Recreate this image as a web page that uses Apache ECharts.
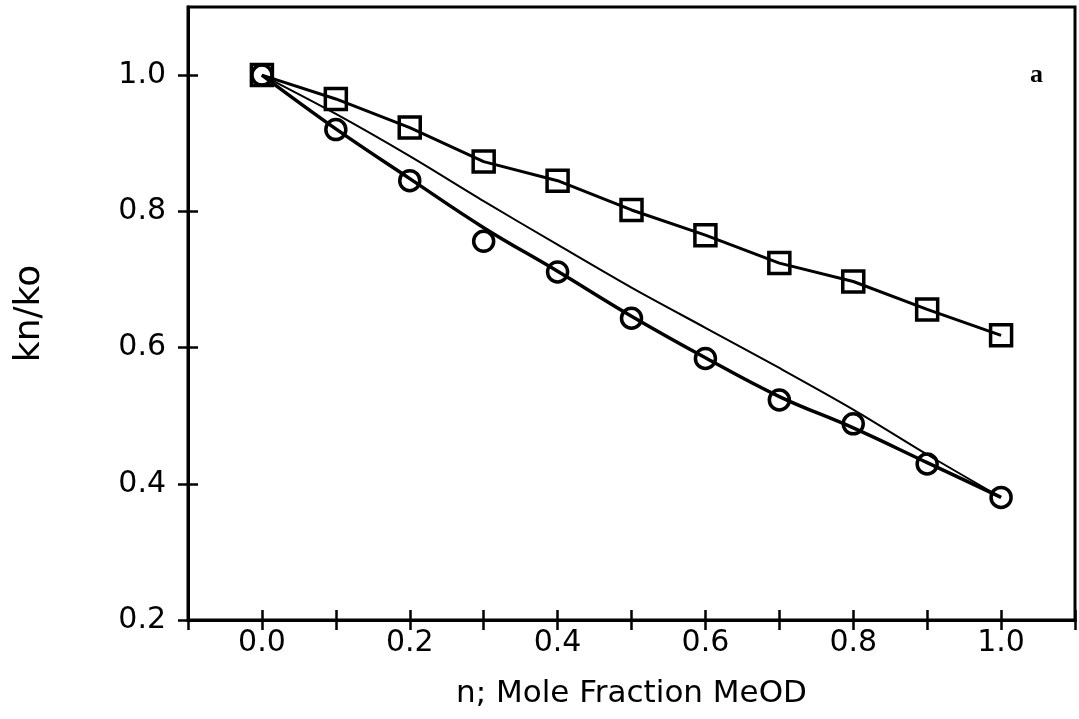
<!DOCTYPE html>
<html>
<head>
<meta charset="utf-8">
<script src="https://cdn.jsdelivr.net/npm/echarts@6/dist/echarts.min.js"></script>
<style>
  html, body { margin: 0; padding: 0; background: #fff; }
  #chart { width: 1079px; height: 719px; }
</style>
</head>
<body>
<div id="chart"></div>
<script>
// Mole fraction of MeOD (x values)
const xValues = [0.0, 0.1, 0.2, 0.3, 0.4, 0.5, 0.6, 0.7, 0.8, 0.9, 1.0];
// Square markers (measured) – joined by a line
const squareValues = [1.0, 0.965, 0.923, 0.873, 0.845, 0.802, 0.765, 0.724, 0.697, 0.656, 0.618];
// Circle markers (measured)
const circleValues = [1.0, 0.920, 0.845, 0.756, 0.711, 0.643, 0.584, 0.523, 0.488, 0.429, 0.380];
// Fitted curve through the circles
const circleFitValues = [1.0, 0.921, 0.848, 0.776, 0.712, 0.646, 0.585, 0.528, 0.482, 0.431, 0.380];
// Thin middle curve
const middleLineValues = [1.0, 0.943, 0.881, 0.815, 0.751, 0.688, 0.629, 0.570, 0.509, 0.443, 0.380];
// Tick values / labels
const yTickValues = [0.2, 0.4, 0.6, 0.8, 1.0];
const xTickLabels = ['0.0', '0.2', '0.4', '0.6', '0.8', '1.0'];
const yTickLabels = ['0.2', '0.4', '0.6', '0.8', '1.0'];
const xAxisTitle = 'n; Mole Fraction MeOD';
const yAxisTitle = 'kn/ko';
const panelLabel = 'a';

const FONT = '"DejaVu Sans", sans-serif';
const pairs = (ys) => xValues.map((x, i) => [x, ys[i]]);

const xLabelFmt = (v) => {
  const s = v.toFixed(1);
  return xTickLabels.includes(s) ? s : '';
};
const yLabelFmt = (v) => {
  const s = v.toFixed(1);
  return (yTickLabels.includes(s) && Math.abs(v - parseFloat(s)) < 1e-6) ? s : '';
};

const baseX = {
  type: 'value', min: -0.1, max: 1.1, interval: 0.1, position: 'bottom',
  axisLine: { show: true, onZero: false, lineStyle: { color: '#000', width: 3 } },
  splitLine: { show: false }
};
const baseY = {
  type: 'value', min: 0.2, max: 1.1, interval: 0.2, position: 'left',
  axisLine: { show: true, onZero: false, lineStyle: { color: '#000', width: 3 } },
  splitLine: { show: false }
};

const chart = echarts.init(document.getElementById('chart'), null, { renderer: 'canvas' });
chart.setOption({
  animation: false,
  backgroundColor: '#fff',
  grid: { left: 188, right: 4, top: 7, bottom: 99, show: true, borderColor: '#000', borderWidth: 3, backgroundColor: 'transparent' },
  xAxis: [
    Object.assign({}, baseX, {
      name: xAxisTitle, nameLocation: 'middle', nameGap: 58,
      nameTextStyle: { fontFamily: FONT, fontSize: 31, color: '#000' },
      axisTick: { show: true, inside: false, length: 10, lineStyle: { color: '#000', width: 2.5 } },
      axisLabel: { show: true, formatter: xLabelFmt, fontFamily: FONT, fontSize: 30, color: '#000', margin: 8 }
    }),
    Object.assign({}, baseX, {
      axisTick: { show: true, inside: true, length: 10, lineStyle: { color: '#000', width: 2.5 } },
      axisLabel: { show: false }
    })
  ],
  yAxis: [
    Object.assign({}, baseY, {
      name: yAxisTitle, nameLocation: 'middle', nameGap: 140,
      nameTextStyle: { fontFamily: FONT, fontSize: 36, color: '#000' },
      axisTick: { show: true, inside: false, length: 10, customValues: yTickValues, lineStyle: { color: '#000', width: 2.5 } },
      axisLabel: { show: true, customValues: yTickValues, formatter: yLabelFmt, fontFamily: FONT, fontSize: 30, color: '#000', margin: 22 }
    }),
    Object.assign({}, baseY, {
      axisTick: { show: true, inside: true, length: 10, customValues: yTickValues, lineStyle: { color: '#000', width: 2.5 } },
      axisLabel: { show: false }
    })
  ],
  graphic: [{
    type: 'text', left: 1030, top: 62,
    style: { text: panelLabel, font: 'bold 26px "Liberation Serif", serif', fill: '#000' }
  }],
  series: [
    {
      name: 'middle', type: 'line', xAxisIndex: 0, yAxisIndex: 0,
      data: pairs(middleLineValues), smooth: 0.3, showSymbol: false, symbol: 'none',
      lineStyle: { color: '#000', width: 2 }, z: 2
    },
    {
      name: 'circle fit', type: 'line', xAxisIndex: 0, yAxisIndex: 0,
      data: pairs(circleFitValues), smooth: 0.4, showSymbol: false, symbol: 'none',
      lineStyle: { color: '#000', width: 3.5 }, z: 2
    },
    {
      name: 'squares', type: 'line', xAxisIndex: 0, yAxisIndex: 0,
      data: pairs(squareValues), smooth: false,
      symbol: 'rect', symbolSize: 21, showSymbol: true,
      itemStyle: { color: 'rgba(0,0,0,0)', borderColor: '#000', borderWidth: 3.5 },
      lineStyle: { color: '#000', width: 3 }, z: 3
    },
    {
      name: 'circles', type: 'scatter', xAxisIndex: 0, yAxisIndex: 0,
      data: pairs(circleValues), symbol: 'circle', symbolSize: 20,
      itemStyle: { color: 'rgba(0,0,0,0)', borderColor: '#000', borderWidth: 3.5, opacity: 1 },
      z: 4
    }
  ]
});
</script>
</body>
</html>
